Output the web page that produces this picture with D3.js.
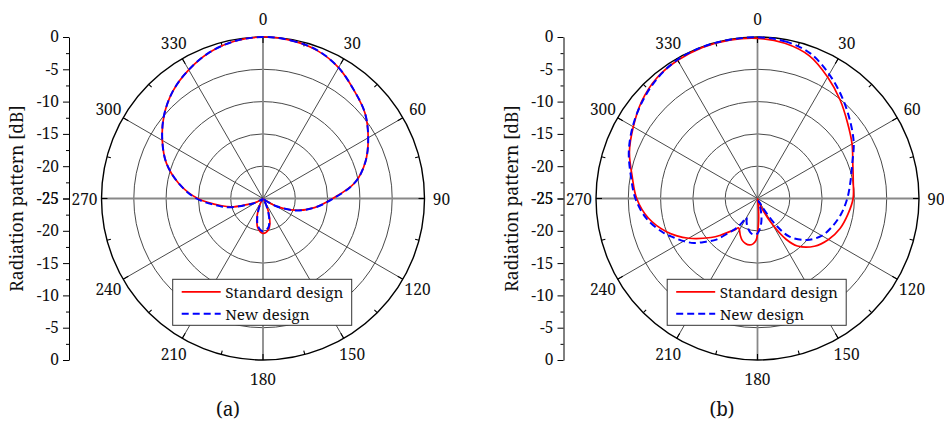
<!DOCTYPE html>
<html><head><meta charset="utf-8">
<script src="https://cdn.jsdelivr.net/npm/d3@7"></script>
<style>
html,body{margin:0;padding:0;background:#fff;}
svg text{font-family:"Noto Serif","Liberation Serif",serif;}
</style></head><body>
<svg id="chart" width="944" height="426"></svg>
<script>
// ---------- data ----------
const angleTickValues = [0,30,60,90,120,150,180,210,240,270,300,330];
const angleTickLabels = ["0","30","60","90","120","150","180","210","240","270","300","330"];
const radialTickValues = [0,-5,-10,-15,-20,-25];
const radialTickLabels = ["0","-5","-10","-15","-20","-25"];
const seriesNames = ["Standard design","New design"];
const panelLabels = ["(a)","(b)"];
const axisTitle = "Radiation pattern [dB]";

// panel (a)
const anglesA = [0,10,20,30,40,50,60,70,80,90,100,110,120,130,140,150,155,160,165,170,180,190,195,200,205,210,220,230,240,245,250,255,260,270,280,290,300,310,320,330,340,350];
const standardA = [0,-0.15,-0.6,-1.6,-3.1,-4.4,-6.2,-8.1,-10.5,-14.2,-16.9,-19.7,-22.6,-24.6,-24.9,-24.5,-23.5,-22.2,-20.9,-20.1,-19.6,-20.4,-21.3,-22.5,-23.7,-24.6,-24.9,-24.8,-24.0,-23.2,-22.1,-20.0,-18.5,-14.9,-11.8,-9.1,-7.0,-5.0,-3.3,-2.0,-0.9,-0.25];
const newA = [0,-0.15,-0.55,-1.6,-3.1,-4.4,-6.2,-8.1,-10.5,-14.1,-16.9,-19.6,-22.6,-24.6,-24.9,-24.6,-23.7,-22.5,-21.2,-20.4,-19.9,-20.6,-21.5,-22.7,-23.8,-24.6,-24.9,-24.8,-23.9,-23.0,-21.8,-19.7,-18.2,-14.7,-11.8,-9.1,-7.0,-5.0,-3.3,-2.0,-0.9,-0.25];

// panel (b)
const anglesBStd = [0,10,20,30,40,50,60,70,80,90,100,110,120,130,140,145,150,155,160,165,170,175,178,182,186,190,195,200,205,210,213,216,220,225,230,240,250,260,270,280,290,300,310,320,330,340,350];
const standardB = [-0.2,-0.6,-1.5,-3.3,-5.1,-6.8,-8.1,-9.3,-9.95,-10.2,-10.8,-11.4,-12.3,-13.5,-15.4,-17.3,-20.3,-22.9,-24.5,-24.9,-24.9,-23.2,-21.0,-18.5,-17.9,-17.7,-17.8,-18.1,-18.7,-19.4,-19.6,-19.0,-18.3,-17.0,-15.6,-12.7,-10.0,-7.8,-6.3,-5.3,-3.9,-2.8,-1.6,-0.7,-0.3,-0.1,-0.1];
const anglesBNew = [0,10,20,30,40,50,60,70,80,90,100,110,120,130,140,145,150,155,160,165,170,175,180,185,190,195,200,205,210,213,216,220,225,230,235,240,245,250,260,270,280,290,300,310,320,330,340,350];
const newB = [-0.05,-0.3,-1.1,-2.8,-4.6,-6.3,-7.8,-9.4,-10.4,-11.1,-11.8,-12.6,-13.5,-15.0,-17.3,-19.8,-23.3,-24.6,-24.2,-22.9,-21.5,-20.4,-19.6,-19.4,-19.5,-19.9,-20.4,-21.0,-21.6,-20.4,-19.2,-18.1,-16.0,-14.6,-13.0,-11.8,-10.7,-9.5,-7.5,-6.1,-5.1,-3.8,-2.7,-1.7,-0.8,-0.2,-0.05,-0.05];

// ---------- layout ----------
const FONT = "Noto Serif, Liberation Serif, serif";
const TXT = "#111";
const svg = d3.select("#chart");
const R = 161.5;
const panels = [
  {cx:263, cy:198.5, label:panelLabels[0], labelX:228,
   series:[{a:anglesA, v:standardA}, {a:anglesA, v:newA}]},
  {cx:757.5, cy:198.5, label:panelLabels[1], labelX:722,
   series:[{a:anglesBStd, v:standardB}, {a:anglesBNew, v:newB}]}
];
const seriesStyle = [
  {color:"#ff0000", width:1.7, dash:null},
  {color:"#0000ff", width:2, dash:"7,4"}
];
const rScale = d3.scaleLinear().domain([-25,0]).range([0,R]).clamp(true);
const rad = d => d*Math.PI/180;

panels.forEach(p => {
  const g = svg.append("g");
  const pg = g.append("g").attr("transform",`translate(${p.cx},${p.cy})`);

  // rings
  pg.selectAll("circle.ring").data(radialTickValues.filter(v => v>-25 && v<0))
    .join("circle").attr("r", d => rScale(d))
    .attr("fill","none").attr("stroke","#4a4a4a").attr("stroke-width",1);

  // spokes
  pg.selectAll("line.spoke").data(angleTickValues).join("line")
    .attr("x1",0).attr("y1",0)
    .attr("x2", d => R*Math.sin(rad(d))).attr("y2", d => -R*Math.cos(rad(d)))
    .attr("stroke", d => d%90===0 ? "#888" : "#4a4a4a")
    .attr("stroke-width", d => d%90===0 ? 1.8 : 1);

  // outer circle
  pg.append("circle").attr("r",R).attr("fill","none").attr("stroke","#000").attr("stroke-width",1.4);

  // ticks on outer circle
  const tickAngles = d3.range(0,360,15);
  pg.selectAll("line.tick").data(tickAngles).join("line")
    .attr("x1", d => R*Math.sin(rad(d))).attr("y1", d => -R*Math.cos(rad(d)))
    .attr("x2", d => (R-(d%30===0?6:4))*Math.sin(rad(d)))
    .attr("y2", d => -(R-(d%30===0?6:4))*Math.cos(rad(d)))
    .attr("stroke","#000").attr("stroke-width",1.1);

  // angular labels
  pg.selectAll("text.ang").data(angleTickValues).join("text")
    .attr("x", (d) => 178.5*Math.sin(rad(d)))
    .attr("y", (d) => -180*Math.cos(rad(d)))
    .attr("text-anchor","middle").attr("dominant-baseline","central")
    .attr("font-family",FONT).attr("font-size",15.5).attr("fill",TXT)
    .text((d,i) => angleTickLabels[i]);

  // curves
  const line = d3.lineRadial()
    .angle(d => rad(d[0])).radius(d => rScale(d[1]))
    .curve(d3.curveCatmullRomClosed.alpha(0.5));
  p.series.forEach((s,i) => {
    const pts = s.a.map((a,k) => [a, s.v[k]]);
    const st = seriesStyle[i];
    pg.append("path").attr("d", line(pts))
      .attr("fill","none").attr("stroke",st.color).attr("stroke-width",st.width)
      .attr("stroke-dasharray", st.dash).attr("stroke-linejoin","round");
  });

  // legend
  const lg = pg.append("g").attr("transform","translate(-90.3,80.8)");
  lg.append("rect").attr("width",179).attr("height",46)
    .attr("fill","#fff").attr("stroke","#333").attr("stroke-width",1);
  seriesNames.forEach((n,i) => {
    const y = 12.5 + i*22;
    const st = seriesStyle[i];
    lg.append("line").attr("x1",9).attr("x2",48).attr("y1",y).attr("y2",y)
      .attr("stroke",st.color).attr("stroke-width",st.width).attr("stroke-dasharray",st.dash);
    lg.append("text").attr("x",52.5).attr("y",y).attr("dominant-baseline","central")
      .attr("font-family",FONT).attr("font-size",15.3)
      .attr("fill",TXT).text(n);
  });

  // radial axis (left)
  const ax = p.cx - 194;
  const yTop = d3.scaleLinear().domain([-25,0]).range([p.cy, p.cy-R]);
  const yBot = d3.scaleLinear().domain([-25,0]).range([p.cy, p.cy+R]);
  [yTop,yBot].forEach(ys => {
    const a1 = g.append("g").attr("transform",`translate(${ax},0)`)
      .call(d3.axisLeft(ys).tickValues(radialTickValues).tickSize(6).tickSizeOuter(0).tickPadding(4)
        .tickFormat((d,i) => radialTickLabels[i]));
    a1.attr("font-family",FONT).attr("font-size",15.5);
    a1.selectAll("text").attr("font-family",FONT).attr("font-size",15.5).attr("fill",TXT);
    a1.select(".domain").attr("stroke","#000");
    const a2 = g.append("g").attr("transform",`translate(${ax},0)`)
      .call(d3.axisLeft(ys).tickValues(d3.range(-2.5,-25,-5)).tickSize(3).tickSizeOuter(0).tickFormat(""));
    a2.select(".domain").remove();
  });

  // axis title
  g.append("text").attr("transform",`translate(${ax-53},${p.cy}) rotate(-90)`)
    .attr("text-anchor","middle").attr("dominant-baseline","central")
    .attr("font-family",FONT).attr("font-size",17.5)
    .attr("fill",TXT).text(axisTitle);

  // panel label
  g.append("text").attr("x",p.labelX).attr("y",409).attr("text-anchor","middle")
    .attr("dominant-baseline","central").attr("font-family",FONT)
    .attr("font-size",19).attr("fill",TXT).text(p.label);
});
</script>
</body></html>
